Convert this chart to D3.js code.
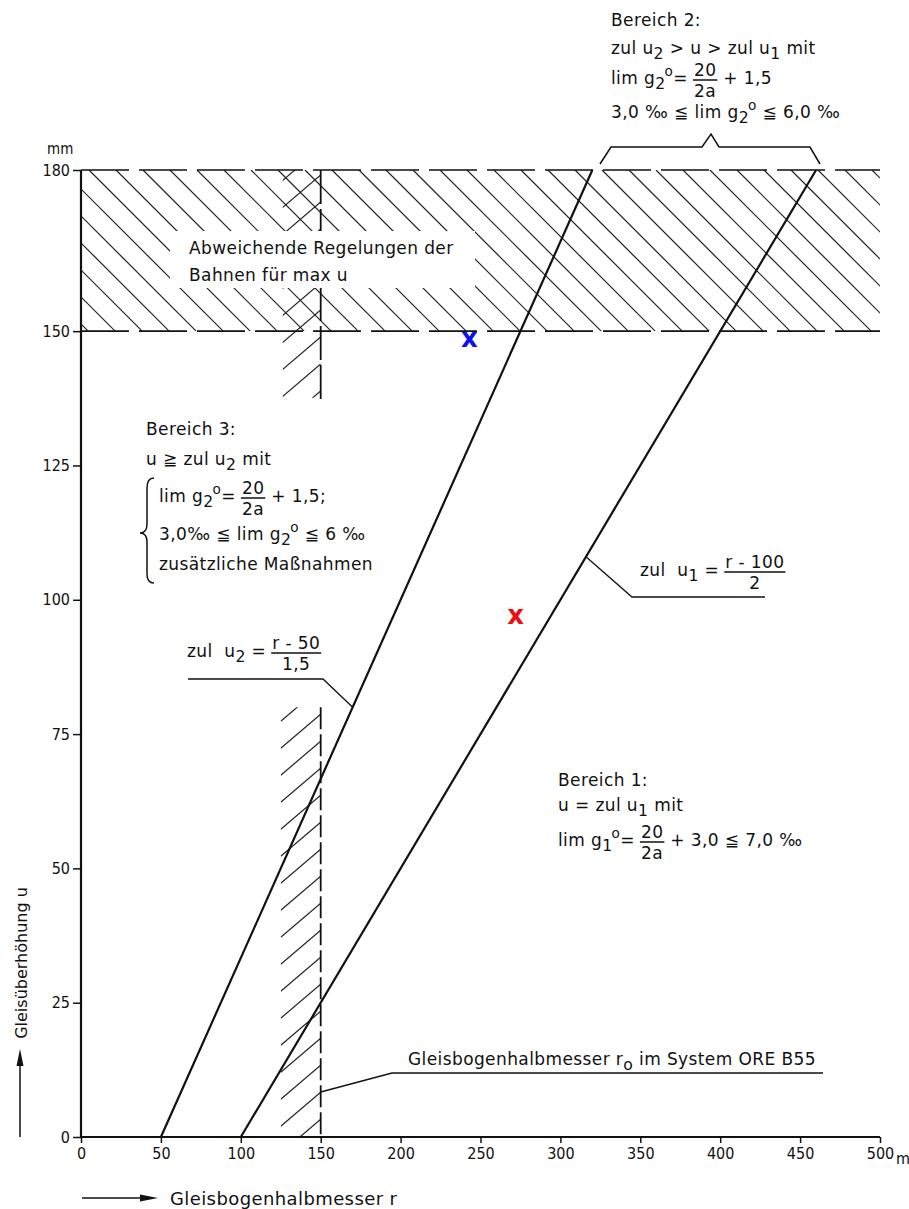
<!DOCTYPE html>
<html><head><meta charset="utf-8">
<script src="https://cdn.jsdelivr.net/npm/d3@7"></script>
<style>
html,body{margin:0;padding:0;background:#fff;}
svg{display:block;}
text{font-family:"DejaVu Sans",sans-serif;fill:#111;}
.lbl{letter-spacing:0.4px;}
.tick{font-family:"Liberation Sans Narrow","DejaVu Sans Condensed",sans-serif;font-size:16px;}
</style></head>
<body>
<svg id="c" width="909" height="1209"></svg>
<script>
// ---------- data ----------
const xTickValues = [0, 50, 100, 150, 200, 250, 300, 350, 400, 450, 500];
const yTickValues = [0, 25, 50, 75, 100, 125, 150, 180];
const u2LineR = [50, 320];      // zul u2 = (r-50)/1,5
const u2LineU = [0, 180];
const u1LineR = [100, 460];     // zul u1 = (r-100)/2
const u1LineU = [0, 180];
const maxUBand = [150, 180];    // Abweichende Regelungen der Bahnen für max u
const r0 = 150;                 // Gleisbogenhalbmesser r0 im System ORE B55
const r0LowerU = [0, 80];
const r0UpperU = [135, 180];
const hatchRFrom = 125;
const markerR = [243, 272];
const markerU = [148.5, 97];
const markerColor = ["#1010ee", "#ee1010"];

// ---------- scales ----------
const svg = d3.select("#c");
const x = d3.scaleLinear().domain([0, 500]).range([81, 880]);
const y = d3.scaleLinear().domain([0, 180]).range([1137, 170]);

// ---------- hatching ----------
const defs = svg.append("defs");
defs.append("clipPath").attr("id","bandClip").append("rect")
  .attr("x", x(0)).attr("y", y(maxUBand[1])).attr("width", x(500)-x(0)).attr("height", y(maxUBand[0])-y(maxUBand[1]));
defs.append("clipPath").attr("id","crossClip").append("rect")
  .attr("x", x(hatchRFrom)+2).attr("y", y(maxUBand[1])).attr("width", x(r0)-x(hatchRFrom)-2).attr("height", y(r0UpperU[0])-y(maxUBand[1])-14);
defs.append("clipPath").attr("id","lowClip").append("rect")
  .attr("x", x(hatchRFrom)).attr("y", y(r0LowerU[1])).attr("width", x(r0)-x(hatchRFrom)).attr("height", y(0)-y(r0LowerU[1]));

const hatch = svg.append("g").attr("stroke","#222").attr("stroke-width",1.2).attr("fill","none");
const bandG = hatch.append("g").attr("clip-path","url(#bandClip)");
const bandTop = y(maxUBand[1]), bandH = y(maxUBand[0]) - y(maxUBand[1]);
d3.range(-8, 32).forEach(k => {
  const x0 = x(0) + 8 + k*27;
  bandG.append("line").attr("x1", x0).attr("y1", bandTop).attr("x2", x0 + bandH).attr("y2", bandTop + bandH);
});
const crossG = hatch.append("g").attr("clip-path","url(#crossClip)");
d3.range(0, 12).forEach(k => {
  const y0 = y(maxUBand[1]) + 12 + k*27;
  crossG.append("line").attr("x1", x(hatchRFrom)).attr("y1", y0).attr("x2", x(r0)).attr("y2", y0 - 34);
});
const lowG = hatch.append("g").attr("clip-path","url(#lowClip)");
d3.range(0, 18).forEach(k => {
  const y0 = y(r0LowerU[1]) + 14 + k*27;
  lowG.append("line").attr("x1", x(hatchRFrom)).attr("y1", y0).attr("x2", x(r0)).attr("y2", y0 - 34);
});

maxUBand.forEach(v => {
  svg.append("line").attr("x1", x(0)).attr("x2", x(500)).attr("y1", y(v)).attr("y2", y(v))
    .attr("stroke","#111").attr("stroke-width",1.6).attr("stroke-dasharray","48,10");
});
svg.append("line").attr("x1", x(r0)).attr("x2", x(r0)).attr("y1", y(r0UpperU[1])).attr("y2", y(r0UpperU[0]) - 8)
  .attr("stroke","#111").attr("stroke-width",1.8).attr("stroke-dasharray","34,5");
svg.append("line").attr("x1", x(r0)).attr("x2", x(r0)).attr("y1", y(r0LowerU[1])).attr("y2", y(0))
  .attr("stroke","#111").attr("stroke-width",1.8).attr("stroke-dasharray","22,5");

svg.append("rect").attr("x",170).attr("y",231).attr("width",305).attr("height",57).attr("fill","#fff");

// ---------- main lines ----------
const line = d3.line().x(d => x(d[0])).y(d => y(d[1]));
[[u2LineR, u2LineU],[u1LineR, u1LineU]].forEach(([rs, us]) => {
  svg.append("path").attr("d", line(rs.map((r,i) => [r, us[i]])))
    .attr("fill","none").attr("stroke","#111").attr("stroke-width",2.2);
});

// ---------- axes ----------
const xAxis = svg.append("g").attr("transform", `translate(0,${y(0)})`)
  .call(d3.axisBottom(x).tickValues(xTickValues).tickSize(6).tickPadding(5).tickSizeOuter(0));
const yAxis = svg.append("g").attr("transform", `translate(${x(0)},0)`)
  .call(d3.axisLeft(y).tickValues(yTickValues).tickSize(8).tickPadding(3).tickSizeOuter(0));
[xAxis, yAxis].forEach(a => {
  a.select(".domain").attr("stroke","#111").attr("stroke-width",2.2);
  a.selectAll(".tick line").attr("stroke","#111").attr("stroke-width",1.5);
  a.selectAll(".tick text").attr("class","tick").attr("fill","#111").style("font-size","16px");
});
xAxis.select(".domain").attr("d", `M${x(0)},0H${x(500)}`);
yAxis.select(".domain").attr("d", `M0,${y(0)}V${y(180)}`);
svg.append("text").attr("class","tick").attr("x", 896).attr("y", 1164).style("font-size","16px").text("m");
svg.append("text").attr("class","tick").attr("x", 47).attr("y", 154).style("font-size","15px").text("mm");

// ---------- rich text helpers ----------
const FS = 17;
function rich(x0, y0, parts) {
  const t = svg.append("text").attr("class","lbl").attr("x", x0).attr("y", y0).style("font-size", FS + "px").attr("xml:space","preserve");
  let cur = 0;
  parts.forEach(p => {
    const s = typeof p === "string" ? p : p[0];
    const type = typeof p === "string" ? "n" : p[1];
    const target = type === "sub" ? 5 : type === "sup" ? -8 : 0;
    const size = type === "sup" ? FS*0.8 : type === "sub" ? FS*0.92 : FS;
    const ts = t.append("tspan").attr("dy", target - cur).style("font-size", size + "px").text(s);
    if (type === "sup") ts.attr("dx", -1);
    cur = target;
  });
  const b = t.node().getBBox();
  return b.x + b.width;
}
function row(x0, y0, items) {
  let cx = x0;
  items.forEach(it => {
    if (it.f) {
      cx += 5;
      const n = svg.append("text").attr("class","lbl").attr("y", y0 - 8).attr("text-anchor","middle").style("font-size", FS+"px").text(it.f[0]);
      const d = svg.append("text").attr("class","lbl").attr("y", y0 + 13).attr("text-anchor","middle").style("font-size", FS+"px").text(it.f[1]);
      const w = Math.max(n.node().getBBox().width, d.node().getBBox().width) + 2;
      n.attr("x", cx + w/2); d.attr("x", cx + w/2);
      svg.append("line").attr("x1", cx).attr("x2", cx + w).attr("y1", y0 - 4).attr("y2", y0 - 4).attr("stroke","#111").attr("stroke-width",1.5);
      cx += w + 6;
    } else {
      cx = rich(cx, y0, it);
    }
  });
  return cx;
}

// Bereich 2
rich(611, 26, ["Bereich 2:"]);
rich(611, 54, ["zul u", ["2","sub"], " > u > zul u", ["1","sub"], " mit"]);
row(611, 84, [["lim g", ["2","sub"], ["o","sup"], "="], {f:["20","2a"]}, ["+ 1,5"]]);
rich(611, 118, ["3,0 ‰ ≦ lim g", ["2","sub"], ["o","sup"], " ≦ 6,0 ‰"]);
svg.append("path").attr("fill","none").attr("stroke","#111").attr("stroke-width",1.5)
  .attr("d","M600,164 L611,147 H702 L711,134 L719,147 H810 L820,164");

// band label
rich(189, 254, ["Abweichende Regelungen der"]);
rich(189, 281, ["Bahnen für max u"]);

// Bereich 3
rich(146, 435, ["Bereich 3:"]);
rich(146, 465, ["u ≧ zul u", ["2","sub"], " mit"]);
row(159, 502, [["lim g", ["2","sub"], ["o","sup"], "="], {f:["20","2a"]}, ["+ 1,5;"]]);
rich(159, 540, ["3,0‰ ≦ lim g", ["2","sub"], ["o","sup"], " ≦ 6 ‰"]);
rich(159, 570, ["zusätzliche Maßnahmen"]);
svg.append("path").attr("fill","none").attr("stroke","#111").attr("stroke-width",1.5)
  .attr("d","M154,478 Q147,478 147,488 L147,524 Q147,533 140,533 Q147,533 147,542 L147,574 Q147,583 154,583");

// zul u2 label
row(187, 657, [["zul  u", ["2","sub"], " ="], {f:["r - 50","1,5"]}]);
const u2Leader = 80;
svg.append("path").attr("fill","none").attr("stroke","#111").attr("stroke-width",1.3)
  .attr("d", `M188,679 H323 L${x(50 + 1.5*u2Leader)},${y(u2Leader)}`);

// zul u1 label
row(640, 576, [["zul  u", ["1","sub"], " ="], {f:["r - 100","2"]}]);
const u1Leader = 108;
svg.append("path").attr("fill","none").attr("stroke","#111").attr("stroke-width",1.3)
  .attr("d", `M${x(100 + 2*u1Leader)},${y(u1Leader)} L632,597 H765`);

// Bereich 1
rich(558, 786, ["Bereich 1:"]);
rich(558, 811, ["u = zul u", ["1","sub"], " mit"]);
row(558, 846, [["lim g", ["1","sub"], ["o","sup"], "="], {f:["20","2a"]}, ["+ 3,0 ≦ 7,0 ‰"]]);

// ORE B55 label
rich(408, 1065, ["Gleisbogenhalbmesser r", ["o","sub"], " im System ORE B55"]);
svg.append("path").attr("fill","none").attr("stroke","#111").attr("stroke-width",1.3)
  .attr("d", `M${x(r0)},1092 L392,1073 H823`);

// markers
markerR.forEach((r, i) => {
  svg.append("text").attr("x", x(r)).attr("y", y(markerU[i]) + 8).attr("text-anchor","middle")
    .style("font-size","26px").style("font-weight","bold").style("fill", markerColor[i]).text("x");
});

// axis titles with arrows
svg.append("text").attr("transform","translate(27,963) rotate(-90)").attr("text-anchor","middle")
  .style("font-size","16px").text("Gleisüberhöhung  u");
svg.append("line").attr("x1",20).attr("x2",20).attr("y1",1137).attr("y2",1062).attr("stroke","#111").attr("stroke-width",1.5);
svg.append("path").attr("d","M20,1049 L16.5,1066 L23.5,1066 Z").attr("fill","#111");
svg.append("line").attr("x1",82).attr("x2",145).attr("y1",1198).attr("y2",1198).attr("stroke","#111").attr("stroke-width",1.5);
svg.append("path").attr("d","M158,1198 L140,1194.5 L140,1201.5 Z").attr("fill","#111");
svg.append("text").attr("class","lbl").attr("x",170).attr("y",1205).style("font-size","18px").text("Gleisbogenhalbmesser  r");
</script>
</body></html>
